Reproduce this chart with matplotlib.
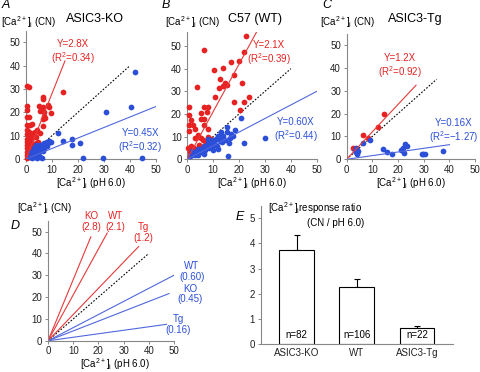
import numpy as np
import matplotlib.pyplot as plt

plt.rcParams['font.family'] = ['Liberation Sans', 'DejaVu Sans']
plt.rcParams['mathtext.default'] = 'regular'

RED = '#e62222'
BLUE = '#2b4fd8'
RLINE = '#e8393a'
BLINE = '#5068dc'

# panel A (ASIC3-KO)
ko_red_x = [0.3, 1.2, 0.5, 0.5, 0.3, 1.3, 0.5, 1.6, 2.2, 0.3, 2.6, 3.5, 0.4, 1.0, 0.3, 1.5, 0.6, 2.0, 4.7,
            0.3, 1.2, 2.5, 0.5, 1.8, 3.0, 0.3, 1.0, 2.2, 0.6, 1.5, 3.5, 0.3, 2.8, 3.8, 3.8, 5.4, 6.4, 4.2,
            14.1, 6.7, 6.5, 5.1, 6.4, 5.6, 6.9, 9.5, 6.9, 6.4, 8.5, 9.0, 7.2, 2.4, 1.0]
ko_red_y = [31.3, 30.8, 22.8, 21.0, 18.0, 18.2, 14.6, 14.4, 15.0, 12.3, 11.0, 11.4, 10.5, 9.8, 8.6, 8.2, 7.2, 7.0, 7.4,
            6.0, 5.5, 5.8, 4.5, 4.0, 4.2, 3.0, 2.6, 2.8, 1.6, 1.2, 3.0, 0.6, 9.4, 9.4, 6.8, 11.0, 14.0, 12.5,
            28.8, 25.7, 26.4, 22.8, 22.1, 20.7, 20.3, 19.6, 18.4, 17.0, 23.0, 22.3, 17.6, 9.0, 11.6]
ko_blue_x = [41.8, 40.3, 30.6, 14.3, 17.8, 17.8, 20.8, 21.8, 29.7, 44.7, 12.4, 6.0,
             2.5, 3.0, 3.5, 4.0, 4.5, 5.0, 5.5, 6.0, 6.5, 7.0, 7.5, 8.0, 8.5, 9.0, 9.5, 3.0, 2.0, 4.0,
             5.0, 6.0, 7.0, 3.5, 4.5, 2.5, 5.5, 3.8, 6.5, 8.0, 1.5, 4.2]
ko_blue_y = [37.3, 22.4, 20.3, 7.8, 8.6, 6.0, 7.0, 0.6, 0.6, 0.6, 11.0, 0.3,
             1.5, 2.5, 0.8, 3.5, 4.5, 5.5, 6.0, 5.0, 6.5, 7.0, 6.0, 7.2, 7.0, 7.5, 7.3, 4.5, 3.0, 6.0,
             3.0, 4.0, 4.5, 1.5, 2.0, 0.5, 1.0, 5.2, 3.5, 5.5, 1.0, 0.3]

# panel B (C57 WT)
wt_red_x = [22.8, 21.8, 6.5, 19.9, 16.9, 14.0, 10.5, 17.9, 12.7, 14.7, 14.0, 15.3, 3.7, 12.1, 21.2, 21.8,
            24.0, 17.9, 10.8, 0.8, 6.6, 8.2, 7.5, 5.3, 20.2, 0.8, 1.5, 0.6, 2.3, 3.0, 5.3, 6.6, 6.6, 8.2,
            4.0, 4.3, 5.3, 6.0, 0.6, 0.3, 1.3, 2.5, 1.0, 3.5, 5.8, 4.5, 7.0, 2.0, 3.0, 8.0, 9.0, 6.0]
wt_red_y = [54.3, 47.4, 48.1, 43.4, 43.0, 40.1, 39.6, 37.2, 35.3, 33.8, 32.4, 33.0, 31.7, 31.3, 33.5, 25.4,
            27.4, 25.4, 27.6, 23.2, 22.9, 22.9, 21.0, 20.3, 21.7, 19.6, 17.5, 15.3, 15.0, 13.5, 17.6, 18.0,
            15.0, 13.5, 10.8, 10.0, 9.3, 8.5, 12.5, 5.0, 5.8, 5.0, 3.0, 4.0, 5.5, 6.5, 8.0, 2.5, 9.5, 10.0,
            9.0, 3.5]
wt_blue_x = [20.9, 30.0, 21.8, 15.7, 15.3, 18.3, 15.3, 13.0, 17.0, 16.5, 14.0, 12.0, 11.0, 10.0, 9.0, 8.0,
             7.5, 6.5, 5.5, 4.5, 3.5, 2.5, 1.5, 1.0, 2.0, 3.0, 4.0, 5.0, 6.0, 7.0, 8.5, 9.5, 10.5, 12.5,
             13.5, 14.5, 17.5, 11.5, 16.0, 12.0, 10.0, 6.5, 4.0, 2.0, 8.0, 13.0]
wt_blue_y = [18.4, 9.3, 7.4, 1.5, 14.4, 12.9, 12.0, 12.0, 11.0, 9.5, 10.5, 10.5, 9.0, 8.5, 7.5, 7.0,
             5.5, 6.0, 4.5, 3.5, 3.0, 2.5, 2.0, 1.5, 3.5, 2.0, 4.5, 3.0, 3.5, 4.0, 5.0, 6.0, 7.0, 8.0,
             7.5, 8.5, 10.5, 6.0, 7.0, 4.5, 4.0, 2.5, 2.0, 1.8, 9.0, 9.5]

# panel C (ASIC3-Tg)
tg_red_x = [2.6, 6.5, 8.4, 12.1, 14.6]
tg_red_y = [4.8, 10.7, 9.5, 14.3, 19.8]
tg_blue_x = [3.9, 3.5, 4.2, 3.8, 4.5, 4.0, 3.2, 6.5, 9.3, 14.0, 15.6, 17.8, 21.0, 22.0, 23.4, 22.7,
             22.3, 29.2, 29.8, 30.3, 37.6]
tg_blue_y = [4.1, 3.2, 2.6, 4.8, 3.6, 2.2, 3.8, 7.0, 8.5, 4.5, 3.4, 2.2, 4.1, 4.8, 5.9, 6.6,
             2.9, 2.2, 2.2, 2.2, 3.6]

# fitted slopes
slopes_red = [2.8, 2.1, 1.2]
slopes_blue = [0.45, 0.60, 0.16]
r2_red = ['0.34', '0.39', '0.92']
r2_blue = ['0.32', '0.44', '\u22121.27']

# panel E
groups = ['ASIC3-KO', 'WT', 'ASIC3-Tg']
ratio = [3.72, 2.25, 0.62]
ratio_err = [0.6, 0.33, 0.1]
n_cells = [82, 106, 22]

fig = plt.figure(figsize=(4.8, 3.72), dpi=100)
FS = 7


def style(ax):
    for s in ['top', 'right']:
        ax.spines[s].set_visible(False)
    for s in ['left', 'bottom']:
        ax.spines[s].set_color('#888888')
        ax.spines[s].set_linewidth(0.8)
    ax.tick_params(labelsize=FS, colors='#888888', labelcolor='#222222', length=2.5, width=0.7, pad=1.5)


def px(x, y):
    return x / 480, 1 - y / 372


CA = '[Ca$^{2+}$]$_{i}$'

scat = [
    (ko_red_x, ko_red_y, ko_blue_x, ko_blue_y, [0.054, 0.5726, 0.271, 0.345], 55, 15, 50, 40,
     (18, 45.5), (44, 7.3)),
    (wt_red_x, wt_red_y, wt_blue_x, wt_blue_y, [0.390, 0.5718, 0.270, 0.341], 56, 27, 50, 40,
     (31.5, 46.7), (42, 12.9)),
    (tg_red_x, tg_red_y, tg_blue_x, tg_blue_y, [0.722, 0.5718, 0.268, 0.338], 55, 27, 40, 35,
     (20.8, 40.7), (41.6, 12.1)),
]
for i, (rx, ry, bx, by, pos, ytop, rend, bend, dend, rtxt, btxt) in enumerate(scat):
    ax = fig.add_axes(pos)
    style(ax)
    ax.set_xlim(0, 50)
    ax.set_ylim(0, ytop)
    ax.set_xticks([0, 10, 20, 30, 40, 50])
    ax.set_yticks([0, 10, 20, 30, 40, 50])
    ax.plot([0, dend], [0, dend], ls=(0, (1.5, 1.5)), color='black', lw=0.8)
    ax.scatter(rx, ry, s=17, color=RED, lw=0, clip_on=False, zorder=3)
    ax.scatter(bx, by, s=17, color=BLUE, lw=0, clip_on=False, zorder=3)
    ax.plot([0, rend], [0, slopes_red[i] * rend], color=RLINE, lw=0.8, zorder=4)
    ax.plot([0, bend], [0, slopes_blue[i] * bend], color=BLINE, lw=0.8, zorder=4)
    ax.text(rtxt[0], rtxt[1], 'Y=%.1fX\n(R$^2$=%s)' % (slopes_red[i], r2_red[i]), color=RED,
            fontsize=FS, ha='center', va='center', linespacing=1.1)
    ax.text(btxt[0], btxt[1], 'Y=%.2fX\n(R$^2$=%s)' % (slopes_blue[i], r2_blue[i]), color=BLUE,
            fontsize=FS, ha='center', va='center', linespacing=1.1)

titles = ['ASIC3-KO', 'C57 (WT)', 'ASIC3-Tg']
title_x = [95, 255, 415]
ylab_x = [1, 165, 320]
letter_x = [2, 162, 322]
xlab_x = [91, 252, 411]
for i in range(3):
    fig.text(*px(title_x[i], 19), titles[i], fontsize=9, ha='center', va='center')
    fig.text(*px(ylab_x[i], 22), CA + ' (CN)', fontsize=FS, ha='left', va='center')
    fig.text(*px(letter_x[i], 5), 'ABC'[i], fontsize=9, style='italic', ha='left', va='center')
    fig.text(*px(xlab_x[i], 183), CA + ' (pH 6.0)', fontsize=FS, ha='center', va='center')

# panel D
axd = fig.add_axes([0.1, 0.084, 0.2625, 0.3228])
style(axd)
axd.tick_params(axis='x', pad=1)
axd.set_xlim(0, 50)
axd.set_ylim(0, 55)
axd.set_xticks([0, 10, 20, 30, 40, 50])
axd.set_yticks([0, 10, 20, 30, 40, 50])
axd.plot([0, 40], [0, 40], ls=(0, (1.5, 1.5)), color='black', lw=0.8)
d_names = ['KO', 'WT', 'Tg']
d_red_end = [17, 23.5, 36]
d_blue_end = [48, 50, 47]
d_red_txt = [(17, 54.6), (26.6, 54.6), (38, 49.4)]
d_blue_txt = [(56.3, 21.4), (57, 31.7), (51.7, 7.4)]
for i in range(3):
    axd.plot([0, d_red_end[i]], [0, slopes_red[i] * d_red_end[i]], color=RLINE, lw=0.8)
    axd.plot([0, d_blue_end[i]], [0, slopes_blue[i] * d_blue_end[i]], color=BLINE, lw=0.8)
    axd.text(*d_red_txt[i], '%s\n(%.1f)' % (d_names[i], slopes_red[i]), color=RED, fontsize=FS,
             ha='center', va='center', linespacing=1.1, clip_on=False)
    axd.text(*d_blue_txt[i], '%s\n(%.2f)' % (d_names[i], slopes_blue[i]), color=BLUE, fontsize=FS,
             ha='center', va='center', linespacing=1.1, clip_on=False)
fig.text(*px(17, 208), CA + ' (CN)', fontsize=FS, ha='left', va='center')
fig.text(*px(15, 226), 'D', fontsize=9, style='italic', ha='center', va='center')
fig.text(*px(115, 372), CA + ' (pH 6.0)', fontsize=FS, ha='center', va='bottom')

# panel E
axe = fig.add_axes([0.543, 0.0753, 0.401, 0.3717])
style(axe)
xpos = np.arange(len(groups))
axe.bar(xpos, ratio, width=0.58, color='white', edgecolor='black', lw=0.8, zorder=2)
axe.errorbar(xpos, ratio, yerr=[np.zeros(3), ratio_err], fmt='none', ecolor='black',
             elinewidth=0.8, capsize=2, capthick=0.8, zorder=1)
for i in range(3):
    axe.text(xpos[i], 0.35, 'n=%d' % n_cells[i], fontsize=FS, ha='center', va='center')
axe.set_xlim(-0.6, 2.6)
axe.set_ylim(0, 5.5)
axe.set_yticks([0, 1, 2, 3, 4, 5])
axe.set_xticks(xpos)
axe.set_xticklabels(groups)
axe.tick_params(axis='x', length=0, pad=3)
axe.text(-0.48, 5.4, CA + 'response ratio', fontsize=FS, ha='left', va='center')
axe.text(0.17, 4.8, '(CN / pH 6.0)', fontsize=FS, ha='left', va='center')
fig.text(*px(240, 217), 'E', fontsize=9, style='italic', ha='center', va='center')

fig.savefig('out.png', dpi=100)
